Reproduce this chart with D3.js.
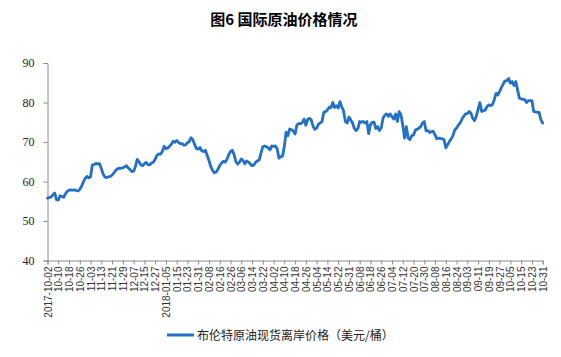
<!DOCTYPE html>
<html>
<head>
<meta charset="utf-8">
<script src="https://cdn.jsdelivr.net/npm/d3@7"></script>
<style>
  html, body { margin: 0; padding: 0; background: #fff; }
  svg { display: block; }
</style>
</head>
<body>
<svg id="chart" width="561" height="357"></svg>
<script>
const titleText = "图6 国际原油价格情况";
const seriesName = "布伦特原油现货离岸价格（美元/桶）";
const tickLabels = ["2017-10-02","10-10","10-18","10-26","11-03","11-13","11-21","11-29","12-07","12-15","12-27",
  "2018-01-05","01-15","01-23","01-31","02-08","02-16","02-26","03-06","03-14","03-22","04-02","04-10","04-18",
  "04-26","05-04","05-14","05-22","05-31","06-08","06-18","06-26","07-04","07-12","07-20","07-30","08-08",
  "08-16","08-24","09-03","09-11","09-19","09-27","10-05","10-15","10-23","10-31"];
const yTicks = [40, 50, 60, 70, 80, 90];
const brentPrices = [
  55.8,55.9,56.1,56.6,57.1,55.4,55.3,56.4,56.2,56.0,
  56.9,57.5,57.8,57.9,57.8,57.9,57.7,57.6,58.0,58.8,
  59.9,60.8,61.3,60.9,61.2,64.2,64.3,64.6,64.4,64.5,
  63.3,61.9,61.1,61.0,61.2,61.3,61.6,62.2,62.8,63.2,
  63.4,63.3,63.5,63.7,64.0,63.4,63.0,62.5,62.6,63.8,
  65.6,65.0,64.2,64.0,64.5,64.8,64.3,64.2,64.7,64.9,
  65.6,66.6,67.0,66.9,67.6,68.9,68.3,68.5,68.9,69.4,
  70.2,69.9,70.4,69.9,69.6,69.6,69.2,69.3,69.8,70.1,
  71.1,70.6,69.4,68.3,68.2,68.6,67.8,67.6,67.9,66.6,
  65.3,63.8,62.8,62.2,62.4,63.1,64.0,64.7,65.1,64.9,
  65.6,66.8,67.6,67.9,66.8,65.0,64.4,64.9,65.7,65.3,
  64.5,65.2,64.9,64.5,64.0,64.2,64.9,65.2,65.5,67.2,
  68.8,69.0,68.8,68.5,68.0,69.0,68.9,69.0,68.3,65.9,
  66.3,66.4,68.9,72.5,71.6,73.3,73.1,72.8,72.0,74.3,
  74.7,74.6,74.9,75.8,74.2,75.7,76.0,75.6,74.0,73.2,
  73.5,74.5,74.8,75.2,77.5,77.7,78.1,78.8,78.7,80.0,
  78.7,79.2,78.6,80.2,78.9,77.9,75.2,74.8,76.3,75.6,
  74.8,73.5,72.9,73.4,75.2,75.0,75.2,74.8,75.2,72.1,
  74.4,75.0,75.0,73.4,73.9,72.9,73.6,76.0,76.8,77.1,
  76.5,77.1,76.4,75.8,77.1,75.2,77.7,76.9,74.3,71.0,
  73.9,71.0,70.6,71.6,71.8,73.0,73.2,73.5,73.9,74.8,
  75.2,72.8,72.9,72.4,72.6,72.7,71.8,70.8,71.0,70.9,
  70.8,70.6,68.5,69.3,70.1,70.8,71.6,73.1,73.5,74.3,
  74.8,75.8,76.5,77.1,77.2,77.7,77.3,76.0,75.4,76.5,
  78.3,80.0,77.7,77.9,78.1,79.0,79.4,79.2,79.5,80.7,
  82.3,81.9,82.8,83.8,84.7,85.5,85.5,86.1,84.9,85.3,
  84.3,85.3,83.2,81.1,80.9,80.8,80.7,80.0,80.5,80.5,
  80.5,77.7,77.6,77.5,77.5,75.6,74.8
];
const labelStep = 6;

const svg = d3.select("#chart");
const plotLeft = 47.5, plotRight = 542.7, plotTop = 63, plotBottom = 260.5;
const axisColor = "#8c8c8c";
const lineColor = "#2370c6";

const x = d3.scaleLinear().domain([0, brentPrices.length - 1]).range([plotLeft, plotRight]);
const y = d3.scaleLinear().domain([40, 90]).range([plotBottom, plotTop]);

// title
svg.append("text")
  .attr("x", 284).attr("y", 25)
  .attr("text-anchor", "middle")
  .style("font-family", "'Noto Sans CJK SC', sans-serif")
  .style("font-weight", "bold")
  .style("font-size", "15px")
  .attr("fill", "#000")
  .text(titleText);

// y axis
const yAxis = svg.append("g")
  .attr("transform", `translate(${plotLeft},0)`)
  .call(d3.axisLeft(y).tickValues(yTicks).tickSize(4).tickPadding(9).tickFormat(d3.format("d")));
yAxis.select(".domain").attr("stroke", axisColor);
yAxis.selectAll(".tick line").attr("stroke", axisColor);
yAxis.selectAll("text")
  .style("font-family", "'Liberation Serif', 'Times New Roman', serif")
  .style("font-size", "12px")
  .attr("fill", "#222");

// x axis
const xAxis = svg.append("g")
  .attr("transform", `translate(0,${plotBottom})`)
  .call(d3.axisBottom(x)
    .tickValues(d3.range(0, brentPrices.length, labelStep))
    .tickSize(4)
    .tickFormat(i => tickLabels[i / labelStep]));
xAxis.select(".domain").attr("stroke", axisColor);
xAxis.selectAll(".tick line").attr("stroke", axisColor);
xAxis.selectAll("text")
  .attr("transform", "rotate(-90)")
  .attr("x", -6).attr("y", 0).attr("dy", "0.35em")
  .style("text-anchor", "end")
  .style("font-family", "'Liberation Sans', Arial, sans-serif")
  .style("font-size", "10px")
  .attr("fill", "#333");

// line
const line = d3.line()
  .x((d, i) => x(i))
  .y(d => y(d))
  .curve(d3.curveLinear);
svg.append("path")
  .datum(brentPrices)
  .attr("fill", "none")
  .attr("stroke", lineColor)
  .attr("stroke-width", 2.8)
  .attr("stroke-linejoin", "round")
  .attr("stroke-linecap", "round")
  .attr("d", line);

// legend
svg.append("line")
  .attr("x1", 167).attr("x2", 194)
  .attr("y1", 335).attr("y2", 335)
  .attr("stroke", lineColor).attr("stroke-width", 3);
svg.append("text")
  .attr("x", 197).attr("y", 339.5)
  .style("font-family", "'Noto Sans CJK SC', sans-serif")
  .style("font-size", "12px")
  .attr("fill", "#222")
  .text(seriesName);
</script>
</body>
</html>
